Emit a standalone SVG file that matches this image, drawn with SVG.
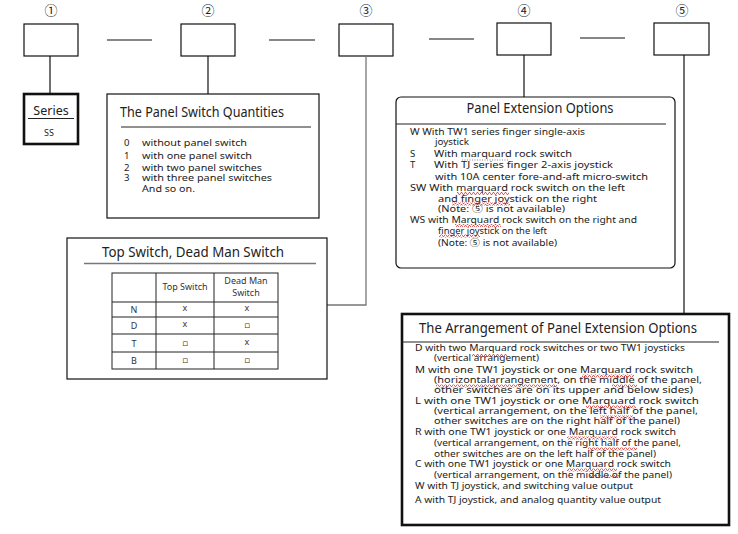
<svg xmlns="http://www.w3.org/2000/svg" width="738" height="534" viewBox="0 0 738 534">
  <style>
    text { font-family: "Noto Sans", "Open Sans", "DejaVu Sans", sans-serif; fill: #222; }
    .num { font-family: "Noto Sans CJK SC", "DejaVu Sans", sans-serif; font-size: 13px; text-anchor: middle; }
    .code { fill: none; stroke: #111; stroke-width: 1.2; }
    .box { fill: #fff; stroke: #111; stroke-width: 1.2; }
    .thick { fill: #fff; stroke: #111; stroke-width: 2.6; }
    .wire { fill: none; stroke: #111; stroke-width: 1.2; }
    .gray { fill: none; stroke: #777; stroke-width: 1.3; }
    .rule { stroke: #222; stroke-width: 1.2; }
    .title { font-size: 13.5px; }
    .body { font-size: 9.6px; }
    .cell { font-size: 9px; text-anchor: middle; fill: #333; }
    .sq { fill: url(#squiggle); }
    .dots { stroke: #888; stroke-width: 1; stroke-dasharray: 1 1.5; }
  </style>
  <defs>
    <pattern id="squiggle" width="4" height="3" patternUnits="userSpaceOnUse">
      <path d="M0,2.5 L1,0.5 L2,0.5 L3,2.5 L4,2.5" fill="none" stroke="#d02020" stroke-width="0.7"/>
    </pattern>
  </defs>

  <rect width="738" height="534" fill="#fff"/>

  <!-- code positions -->
  <g id="code-1">
    <text class="num" x="51" y="15">①</text>
    <rect class="code" x="24" y="24" width="54" height="32"/>
  </g>
  <g id="code-2">
    <text class="num" x="208" y="15">②</text>
    <rect class="code" x="181" y="24" width="54" height="32"/>
  </g>
  <g id="code-3">
    <text class="num" x="366" y="15">③</text>
    <rect class="code" x="339" y="24" width="54" height="32"/>
  </g>
  <g id="code-4">
    <text class="num" x="524" y="15">④</text>
    <rect class="code" x="497" y="23" width="54" height="32"/>
  </g>
  <g id="code-5">
    <text class="num" x="682" y="15">⑤</text>
    <rect class="code" x="654" y="23" width="55" height="32"/>
  </g>

  <!-- connectors -->
  <g id="connectors">
    <line class="wire" x1="107" y1="40" x2="152" y2="40"/>
    <line class="wire" x1="269" y1="40" x2="315" y2="40"/>
    <line class="wire" x1="429" y1="39" x2="474" y2="39"/>
    <line class="wire" x1="580" y1="38" x2="625" y2="38"/>
    <line class="wire" x1="50" y1="56" x2="50" y2="94"/>
    <line class="wire" x1="208" y1="56" x2="208" y2="94"/>
    <polyline class="gray" points="366,56 366,305 327,305"/>
    <line class="wire" x1="524" y1="55" x2="524" y2="97"/>
    <line class="wire" x1="684" y1="55" x2="684" y2="314"/>
  </g>

  <!-- Series -->
  <g id="series">
    <rect class="thick" x="24" y="94" width="54" height="50"/>
    <text x="51" y="115" font-size="12.5" text-anchor="middle">Series</text>
    <line class="rule" x1="28" y1="118.5" x2="74" y2="118.5"/>
    <text x="49" y="136" font-size="9" text-anchor="middle">SS</text>
  </g>

  <!-- Panel switch quantities -->
  <g id="panel-switch-quantities">
    <rect class="box" x="107" y="94" width="212" height="124"/>
    <text class="title" x="120" y="117" textLength="164" lengthAdjust="spacingAndGlyphs">The Panel Switch Quantities</text>
    <line class="rule" x1="121" y1="127" x2="311" y2="127"/>
    <g class="body">
      <text x="124" y="146">0</text>
      <text x="142" y="146" textLength="105" lengthAdjust="spacingAndGlyphs">without panel switch</text>
      <text x="124" y="159">1</text>
      <text x="142" y="159" textLength="110" lengthAdjust="spacingAndGlyphs">with one panel switch</text>
      <text x="124" y="170.5">2</text>
      <text x="142" y="170.5" textLength="120" lengthAdjust="spacingAndGlyphs">with two panel switches</text>
      <text x="124" y="181">3</text>
      <text x="142" y="181" textLength="130" lengthAdjust="spacingAndGlyphs">with three panel switches</text>
      <text x="142" y="192" textLength="53" lengthAdjust="spacingAndGlyphs">And so on.</text>
    </g>
  </g>

  <!-- Top switch / dead man switch -->
  <g id="top-dead-man-switch">
    <rect class="box" x="67" y="238" width="260" height="141"/>
    <text class="title" x="102" y="257" font-size="14" textLength="182" lengthAdjust="spacingAndGlyphs">Top Switch, Dead Man Switch</text>
    <line x1="84" y1="263.5" x2="316" y2="263.5" stroke="#777" stroke-width="1.3"/>
    <g fill="none" stroke="#222" stroke-width="1">
      <rect x="112" y="273" width="166" height="96"/>
      <line x1="156" y1="273" x2="156" y2="369"/>
      <line x1="214" y1="273" x2="214" y2="369"/>
      <line x1="112" y1="302" x2="278" y2="302"/>
      <line x1="112" y1="317" x2="278" y2="317"/>
      <line x1="112" y1="334" x2="278" y2="334"/>
      <line x1="112" y1="352" x2="278" y2="352"/>
    </g>
    <text class="cell" x="185" y="290">Top Switch</text>
    <text class="cell" x="246" y="284">Dead Man</text>
    <text class="cell" x="246" y="296">Switch</text>
    <text class="cell" x="134" y="313">N</text>
    <text class="cell" x="134" y="329">D</text>
    <text class="cell" x="134" y="347">T</text>
    <text class="cell" x="134" y="364">B</text>
    <text class="cell" x="185" y="311">x</text>
    <text class="cell" x="247" y="311">x</text>
    <text class="cell" x="185" y="327">x</text>
    <text class="cell" x="247" y="328">▫</text>
    <text class="cell" x="185" y="346">▫</text>
    <text class="cell" x="247" y="345">x</text>
    <text class="cell" x="185" y="363">▫</text>
    <text class="cell" x="247" y="363">▫</text>
  </g>

  <!-- Panel extension options -->
  <g id="panel-extension-options">
    <rect class="box" x="396" y="97" width="279" height="171" rx="5"/>
    <text class="title" x="540" y="113" text-anchor="middle" textLength="147" lengthAdjust="spacingAndGlyphs">Panel Extension Options</text>
    <line class="rule" x1="396" y1="124" x2="666" y2="124"/>
    <g class="body">
      <text x="410" y="135" textLength="175" lengthAdjust="spacingAndGlyphs">W With TW1 series finger single-axis</text>
      <text x="435" y="145" textLength="34" lengthAdjust="spacingAndGlyphs">joystick</text>
      <text x="410" y="157">S</text>
      <text x="434" y="157" textLength="138" lengthAdjust="spacingAndGlyphs">With marquard rock switch</text>
      <text x="410" y="168">T</text>
      <text x="434" y="168" textLength="179" lengthAdjust="spacingAndGlyphs">With TJ series finger 2-axis joystick</text>
      <text x="435" y="179.5" textLength="213" lengthAdjust="spacingAndGlyphs">with 10A center fore-and-aft micro-switch</text>
      <text x="410" y="191" textLength="215" lengthAdjust="spacingAndGlyphs">SW With marquard rock switch on the left</text>
      <text x="438" y="201.5" textLength="159" lengthAdjust="spacingAndGlyphs">and finger joystick on the right</text>
      <text x="438" y="212" textLength="127" lengthAdjust="spacingAndGlyphs">(Note: <tspan font-family="Noto Sans CJK SC, sans-serif">⑤</tspan> is not available)</text>
      <text x="410" y="223" textLength="227" lengthAdjust="spacingAndGlyphs">WS with Marquard rock switch on the right and</text>
      <text x="438" y="233.5" textLength="109" lengthAdjust="spacingAndGlyphs">finger joystick on the left</text>
      <text x="438" y="246" textLength="119" lengthAdjust="spacingAndGlyphs">(Note: <tspan font-family="Noto Sans CJK SC, sans-serif">⑤</tspan> is not available)</text>
    </g>
    <!-- spell-check marks -->
    <line class="dots" x1="462" y1="160" x2="508" y2="160"/>
    <rect class="sq" x="457" y="192" width="52" height="3"/>
    <rect class="sq" x="452" y="202.5" width="58" height="3"/>
    <rect class="sq" x="455" y="224" width="46" height="3"/>
    <rect class="sq" x="439" y="234.5" width="41" height="3"/>
  </g>

  <!-- Arrangement of panel extension options -->
  <g id="arrangement-options">
    <rect class="thick" x="402" y="314" width="327" height="211"/>
    <text x="419" y="333" font-size="14.5" textLength="278" lengthAdjust="spacingAndGlyphs">The Arrangement of Panel Extension Options</text>
    <line class="rule" x1="402" y1="342" x2="719" y2="342"/>
    <g class="body" font-size="10">
      <text x="415" y="351" textLength="270" lengthAdjust="spacingAndGlyphs">D with two Marquard rock switches or two TW1 joysticks</text>
      <text x="434" y="361" textLength="105" lengthAdjust="spacingAndGlyphs">(vertical arrangement)</text>
      <text x="415" y="372.5" textLength="278" lengthAdjust="spacingAndGlyphs">M with one TW1 joystick or one Marquard rock switch</text>
      <text x="434" y="383" textLength="268" lengthAdjust="spacingAndGlyphs">(horizontalarrangement, on the middle of the panel,</text>
      <text x="434" y="393" textLength="259" lengthAdjust="spacingAndGlyphs">other switches are on its upper and below sides)</text>
      <text x="415" y="404" textLength="284" lengthAdjust="spacingAndGlyphs">L with one TW1 joystick or one Marquard rock switch</text>
      <text x="434" y="414" textLength="264" lengthAdjust="spacingAndGlyphs">(vertical arrangement, on the left half of the panel,</text>
      <text x="434" y="424" textLength="246" lengthAdjust="spacingAndGlyphs">other switches are on the right half of the panel)</text>
      <text x="415" y="434.5" textLength="261" lengthAdjust="spacingAndGlyphs">R with one TW1 joystick or one Marquard rock switch</text>
      <text x="434" y="446" textLength="247" lengthAdjust="spacingAndGlyphs">(vertical arrangement, on the right half of the panel,</text>
      <text x="434" y="456.5" textLength="222" lengthAdjust="spacingAndGlyphs">other switches are on the left half of the panel)</text>
      <text x="415" y="467" textLength="256" lengthAdjust="spacingAndGlyphs">C with one TW1 joystick or one Marquard rock switch</text>
      <text x="434" y="477.5" textLength="238" lengthAdjust="spacingAndGlyphs">(vertical arrangement, on the middle of the panel)</text>
      <text x="415" y="489" textLength="218" lengthAdjust="spacingAndGlyphs">W with TJ joystick, and switching value output</text>
      <text x="415" y="503" textLength="246" lengthAdjust="spacingAndGlyphs">A with TJ joystick, and analog quantity value output</text>
    </g>
    <!-- spell-check marks -->
    <rect class="sq" x="472" y="354" width="36" height="3"/>
    <rect class="sq" x="582" y="374.5" width="52" height="3"/>
    <rect class="sq" x="436" y="384.5" width="121" height="3"/>
    <rect class="sq" x="612" y="384.5" width="25" height="3"/>
    <rect class="sq" x="586" y="405.5" width="50" height="3"/>
    <rect class="sq" x="600" y="415.5" width="34" height="3"/>
    <rect class="sq" x="567" y="436.5" width="50" height="3"/>
    <rect class="sq" x="588" y="447.5" width="49" height="3"/>
    <rect class="sq" x="567" y="468.5" width="50" height="3"/>
    <rect class="sq" x="590" y="475" width="30" height="3"/>
  </g>
</svg>
